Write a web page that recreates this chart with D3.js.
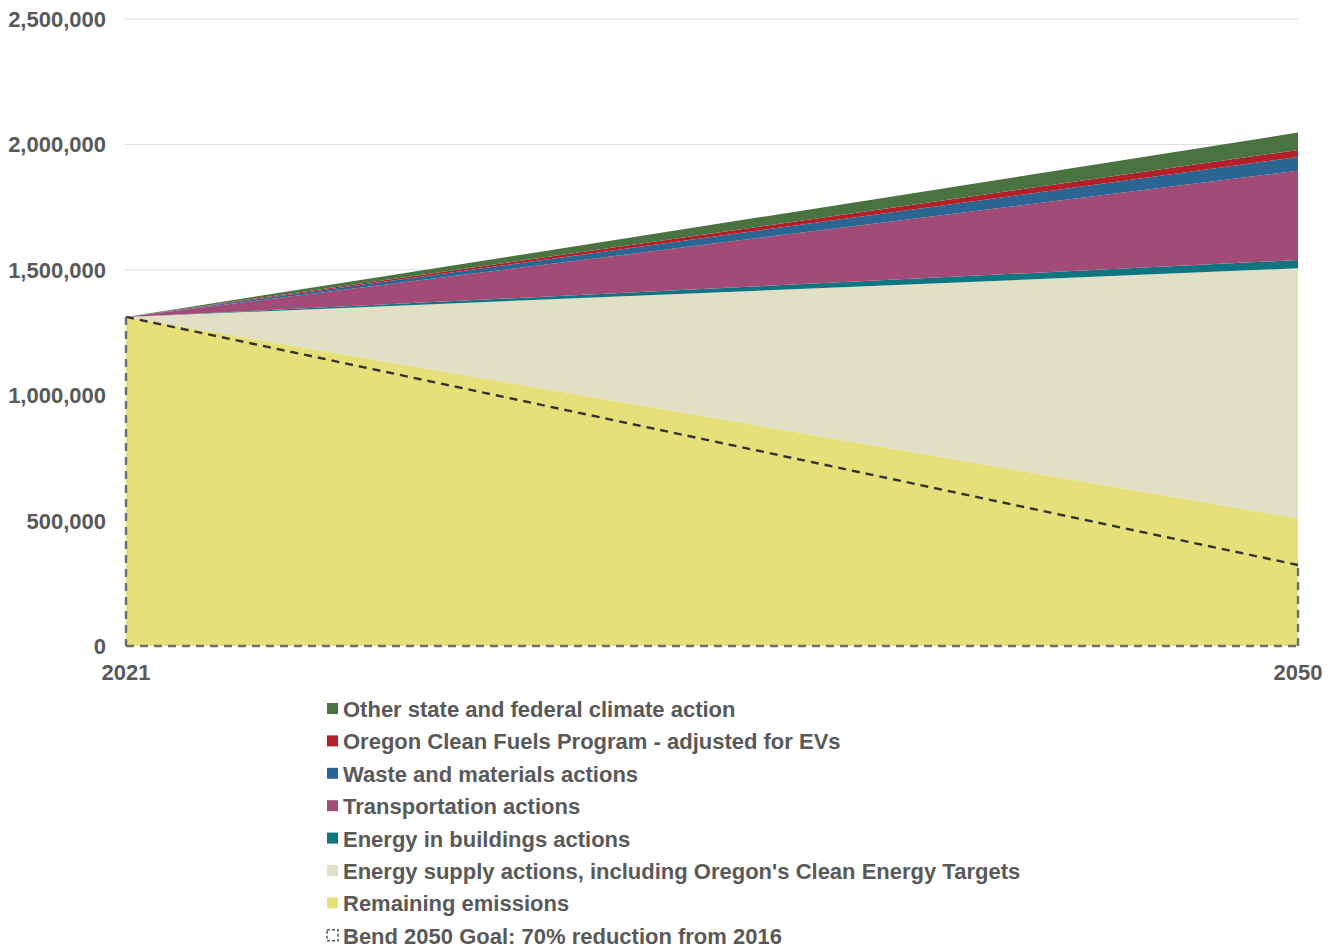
<!DOCTYPE html>
<html lang="en">
<head>
<meta charset="UTF-8">
<title>Bend emissions wedges</title>
<script src="https://d3js.org/d3.v7.min.js"></script>
<style>
  body { margin: 0; background: #fff; }
  svg text { font-family: "Liberation Sans", Arial, sans-serif; font-weight: bold; fill: #595959; }
</style>
</head>
<body>
<div id="chart"></div>
<script>
// years on the x axis
const years = [2021, 2050];

// stacked series, bottom to top
const seriesNames = [
  "Remaining emissions",
  "Energy supply actions, including Oregon's Clean Energy Targets",
  "Energy in buildings actions",
  "Transportation actions",
  "Waste and materials actions",
  "Oregon Clean Fuels Program - adjusted for EVs",
  "Other state and federal climate action"
];
const remaining      = [1312000, 509000];
const energySupply   = [0, 997000];
const buildings      = [0, 33000];
const transportation = [0, 356000];
const waste          = [0, 55000];
const cleanFuels     = [0, 28000];
const otherAction    = [0, 69000];

const goalName = "Bend 2050 Goal: 70% reduction from 2016";
const goal = [1312000, 323000];

const yTicks = [0, 500000, 1000000, 1500000, 2000000, 2500000];

const colors = ["#e5e07a", "#e1dfc6", "#0f7580", "#a34b78", "#2b6592", "#b3202a", "#4b7241"];

const seriesValues = [remaining, energySupply, buildings, transportation, waste, cleanFuels, otherAction];
const table = years.map((yr, i) => {
  const row = { year: yr };
  seriesNames.forEach((n, k) => row[n] = seriesValues[k][i]);
  return row;
});

const W = 1333, H = 949;
const svg = d3.select("#chart").append("svg").attr("width", W).attr("height", H);

const x = d3.scaleLinear().domain([2021, 2050]).range([126, 1298]);
const y = d3.scaleLinear().domain([0, 2500000]).range([646, 19]);

// gridlines
svg.append("g").selectAll("line").data(yTicks.filter(d => d > 0)).join("line")
  .attr("x1", 125).attr("x2", 1298)
  .attr("y1", d => y(d)).attr("y2", d => y(d))
  .attr("stroke", "#d9d9d9").attr("stroke-width", 1);

// stacked areas
const stack = d3.stack().keys(seriesNames);
const layers = stack(table);
const area = d3.area()
  .x(d => x(d.data.year))
  .y0(d => y(d[0]))
  .y1(d => y(d[1]));

svg.append("g").selectAll("path").data(layers).join("path")
  .attr("d", area)
  .attr("fill", (d, i) => colors[i]);

// goal outline (dashed, no fill)
svg.append("line")
  .attr("x1", x(years[0])).attr("y1", y(goal[0]))
  .attr("x2", x(years[1])).attr("y2", y(goal[1]))
  .attr("stroke", "#333").attr("stroke-width", 2.4).attr("stroke-dasharray", "8,6");
const goalEdge = [
  [years[0], goal[0], years[0], 0],
  [years[0], 0, years[1], 0],
  [years[1], 0, years[1], goal[1]]
];
svg.append("g").selectAll("line").data(goalEdge).join("line")
  .attr("x1", d => x(d[0])).attr("y1", d => y(d[1]))
  .attr("x2", d => x(d[2])).attr("y2", d => y(d[3]))
  .attr("stroke", "#6d6d6d").attr("stroke-width", 2.4).attr("stroke-dasharray", "8,6");

// y axis labels
svg.append("g").selectAll("text").data(yTicks).join("text")
  .attr("x", 106).attr("y", d => y(d) + 8)
  .attr("text-anchor", "end")
  .attr("font-size", 22)
  .text(d => d3.format(",")(d));

// x axis labels
svg.append("g").selectAll("text").data(years).join("text")
  .attr("x", d => x(d)).attr("y", 680)
  .attr("text-anchor", "middle")
  .attr("font-size", 22)
  .text(d => d);

// legend
const legendItems = seriesNames.map((n, i) => ({ name: n, color: colors[i] })).reverse();
legendItems.push({ name: goalName, color: null });
const lg = svg.append("g").selectAll("g").data(legendItems).join("g")
  .attr("transform", (d, i) => `translate(327, ${709 + i * 32.4})`);
lg.append("rect")
  .attr("x", 0).attr("y", -6).attr("width", 11).attr("height", 11)
  .attr("fill", d => d.color || "none")
  .attr("stroke", d => d.color ? "none" : "#555")
  .attr("stroke-width", d => d.color ? 0 : 1.5)
  .attr("stroke-dasharray", d => d.color ? null : "3,2");
lg.append("text")
  .attr("x", 16).attr("y", 8)
  .attr("font-size", 22)
  .text(d => d.name);
</script>
</body>
</html>
